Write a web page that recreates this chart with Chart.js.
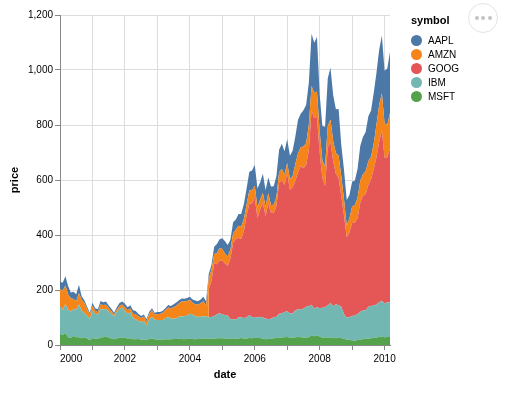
<!DOCTYPE html>
<html>
<head>
<meta charset="utf-8">
<script src="https://cdn.jsdelivr.net/npm/chart.js@4.4.1/dist/chart.umd.min.js"></script>
<style>
  body { margin: 0; background: #fff; font-family: "Liberation Sans", Arial, sans-serif; }
  #wrap { position: relative; width: 510px; height: 394px; }
  #legend { position: absolute; left: 411px; top: 14px; color: #000; }
  #legend .title { font-size: 11px; font-weight: bold; height: 19px; }
  #legend .item { display: flex; align-items: center; height: 14.2px; font-size: 10px; }
  #legend .dot { width: 11px; height: 11px; border-radius: 50%; margin-right: 6px; }
  #more { position: absolute; left: 468px; top: 3px; width: 30px; height: 30px; box-sizing: border-box;
          border: 1px solid #e3e3e3; border-radius: 50%; background: #fff; display: flex;
          align-items: center; justify-content: center; gap: 2.5px; }
  #more span { width: 4px; height: 4px; border-radius: 50%; background: #c4c4c4; }
</style>
</head>
<body>
<div id="wrap">
  <canvas id="chart" width="510" height="394"></canvas>
  <div id="legend"></div>
  <div id="more"><span></span><span></span><span></span></div>
</div>
<script>
// monthly closing prices, Jan 2000 .. Mar 2010
const firstYear = 2000;
const googFirstMonth = 55; // Aug 2004

const msft = [39.81,36.35,43.22,28.37,25.45,32.54,28.4,28.4,24.53,28.02,23.34,17.65,
  24.84,24,22.25,27.56,28.14,29.7,26.93,23.21,20.82,23.65,26.12,26.95,
  25.92,23.73,24.53,21.26,20.71,22.25,19.52,19.97,17.79,21.75,23.46,21.03,
  19.31,19.34,19.76,20.87,20.09,20.93,21.56,21.65,22.69,21.45,21.1,22.46,
  22.69,21.77,20.46,21.45,21.53,23.44,23.38,22.47,22.76,23.02,24.6,24.52,
  24.11,23.15,22.24,23.28,23.82,22.93,23.64,25.35,23.83,23.8,25.71,24.29,
  26.14,25.04,25.36,22.5,21.19,21.8,22.51,24.13,25.68,26.96,27.66,28.13,
  29.07,26.63,26.35,28.3,29.11,27.95,27.5,27.34,28.04,35.03,32.09,34,
  31.13,26.07,27.21,27.34,27.25,26.47,24.75,26.36,25.78,21.57,19.66,18.91,
  16.63,15.81,17.99,19.84,20.59,23.42,23.18,24.43,25.49,27.48,29.27,30.34,
  28.05,28.67,28.8];

const amzn = [64.56,68.87,67,55.19,48.31,36.31,30.12,41.5,38.44,36.62,24.69,15.56,
  17.31,10.19,10.23,15.78,16.69,14.15,12.49,8.94,5.97,6.98,11.32,10.82,
  14.19,14.1,14.3,16.69,18.23,16.25,14.45,14.94,15.93,19.36,23.35,18.89,
  21.85,22.01,26.03,28.69,35.89,36.32,41.64,46.32,48.43,54.43,53.97,52.62,
  50.4,43.01,43.28,43.6,48.5,54.4,38.92,38.14,40.86,34.13,39.68,44.29,
  43.22,35.18,34.27,32.36,35.51,33.09,45.15,42.7,45.3,39.86,48.46,47.15,
  44.82,37.44,36.53,35.21,34.61,38.68,26.89,30.83,32.12,38.09,40.34,39.46,
  37.67,39.14,39.79,61.33,69.14,68.41,78.54,79.91,93.15,89.15,90.56,92.64,
  77.7,64.47,71.3,78.63,81.62,73.33,76.34,80.81,72.76,57.24,42.7,51.28,
  58.82,64.79,73.44,80.52,77.99,83.66,85.76,81.19,93.36,118.81,135.91,134.52,
  125.41,118.4,128.82];

const ibm = [100.52,92.11,106.11,99.95,96.31,98.33,100.74,118.62,101.19,88.5,84.12,76.47,
  100.76,89.98,86.63,103.7,100.82,102.35,94.87,90.25,82.82,97.58,104.5,109.36,
  97.54,88.82,94.15,75.82,72.97,65.31,63.86,68.52,53.01,71.76,79.16,70.58,
  71.22,71.13,71.57,77.47,80.48,75.42,74.28,75.12,80.91,81.96,83.08,85.05,
  91.06,88.7,84.41,81.04,81.59,81.19,80.19,78.17,79.13,82.84,87.15,91.16,
  86.39,85.78,84.66,70.77,70.18,68.93,77.53,75.07,74.7,76.25,82.98,76.73,
  75.89,75.09,77.17,77.05,75.04,72.15,72.7,76.35,77.26,87.06,86.95,91.9,
  93.79,88.18,89.44,96.98,101.54,100.25,105.4,111.54,112.6,111,100.9,103.7,
  102.75,109.64,110.87,116.23,125.14,114.6,123.74,118.16,113.53,90.24,79.65,82.15,
  89.46,90.32,95.09,101.29,104.85,103.01,116.34,117,118.55,119.54,125.79,130.32,
  121.85,127.16,125.55];

// Aug 2004 .. Mar 2010
const goog = [102.37,129.6,190.64,181.98,192.79,
  195.62,187.99,180.51,220,277.27,294.15,287.76,286,316.46,372.14,404.91,414.86,
  432.66,362.62,390,417.94,371.82,419.33,386.6,378.53,401.9,476.39,484.81,460.48,
  501.5,449.45,458.16,471.38,497.91,522.7,510,515.25,567.27,707,693,691.48,
  564.3,471.18,440.47,574.29,585.8,526.42,473.75,463.29,400.52,359.36,292.96,307.65,
  338.53,337.99,348.06,395.97,417.23,421.59,443.05,461.67,495.85,536.12,583,619.98,
  529.94,526.8,560.19];

const aapl = [25.94,28.66,33.95,31.01,21,26.19,25.41,30.47,12.88,9.78,8.25,7.44,
  10.81,9.12,11.03,12.74,9.98,11.62,9.4,9.27,7.76,8.78,10.65,10.95,
  12.36,10.85,11.84,12.14,11.65,8.86,7.63,7.38,7.25,8.03,7.75,7.16,
  7.18,7.51,7.07,7.11,8.98,9.53,10.54,11.31,10.36,11.44,10.45,10.69,
  11.28,11.96,13.52,12.89,14.03,16.27,16.17,17.25,19.38,26.2,33.53,32.2,
  38.45,44.86,41.67,36.06,39.76,36.81,42.65,46.89,53.61,57.59,67.82,71.89,
  75.51,68.49,62.72,70.39,59.77,57.27,67.96,67.85,76.98,81.08,91.66,84.84,
  85.73,84.61,92.91,99.8,121.19,122.04,131.76,138.48,153.47,189.95,182.22,198.08,
  135.36,125.02,143.5,173.95,188.75,167.44,158.95,169.53,113.66,107.59,92.67,85.35,
  90.13,89.31,105.12,125.83,135.81,142.43,163.39,168.21,185.35,188.5,199.91,210.73,
  192.06,204.62,223.02];

const symbols = ['AAPL', 'AMZN', 'GOOG', 'IBM', 'MSFT'];
const colors = ['#4c78a8', '#f58518', '#e45756', '#72b7b2', '#54a24b'];
const stackOrder = ['MSFT', 'IBM', 'GOOG', 'AMZN', 'AAPL']; // bottom to top
const yTicks = [0, 200, 400, 600, 800, 1000, 1200];

const prices = { AAPL: aapl, AMZN: amzn, GOOG: goog, IBM: ibm, MSFT: msft };
const offsets = { AAPL: 0, AMZN: 0, GOOG: googFirstMonth, IBM: 0, MSFT: 0 };

const monthX = i => firstYear + i / 12;
const lastX = monthX(msft.length - 1);
const FONT = '"Liberation Sans", Arial, sans-serif';

// 'stack' fill follows whatever series lies below, so GOOG's late start is handled
const datasets = stackOrder.map(sym => ({
  label: sym,
  data: prices[sym].map((v, i) => ({ x: monthX(i + offsets[sym]), y: v })),
  backgroundColor: colors[symbols.indexOf(sym)],
  borderWidth: 0,
  pointRadius: 0,
  fill: 'stack'
}));

// legend
const legend = document.getElementById('legend');
let html = '<div class="title">symbol</div>';
symbols.forEach((s, i) => {
  html += `<div class="item"><div class="dot" style="background:${colors[i]}"></div>${s}</div>`;
});
legend.innerHTML = html;

// first x label sits flush with the left edge of the axis
const flushFirstLabel = {
  id: 'flushFirstLabel',
  beforeDraw(chart) {
    const items = chart.scales.x.getLabelItems();
    if (items.length) items[0].options.textAlign = 'left';
  }
};

new Chart(document.getElementById('chart'), {
  type: 'line',
  data: { datasets },
  plugins: [flushFirstLabel],
  options: {
    responsive: false,
    animation: false,
    layout: { padding: { left: 0, right: 120, top: 15, bottom: 0 } },
    plugins: { legend: { display: false }, tooltip: { enabled: false } },
    elements: { line: { tension: 0 } },
    scales: {
      x: {
        type: 'linear',
        min: firstYear,
        max: lastX,
        afterFit: s => { s.height = 49; },
        ticks: {
          stepSize: 1, includeBounds: false, autoSkip: false, maxRotation: 0, padding: 3,
          color: '#000', font: { family: FONT, size: 10 },
          callback: v => (v % 2 === 0 ? String(v) : '')
        },
        grid: { color: '#ddd', tickColor: '#888', tickLength: 5 },
        border: { color: '#888' },
        title: {
          display: true, text: 'date', color: '#000',
          font: { family: FONT, size: 11, weight: 'bold' },
          padding: { top: 0, bottom: 12 }
        }
      },
      y: {
        stacked: true,
        min: 0,
        max: 1200,
        afterFit: s => { s.width = 60; },
        afterBuildTicks: s => { s.ticks = yTicks.map(v => ({ value: v })); },
        ticks: {
          padding: 2, color: '#000', font: { family: FONT, size: 10 },
          callback: v => v.toLocaleString('en-US')
        },
        grid: { color: '#ddd', tickColor: '#888', tickLength: 5 },
        border: { color: '#888' },
        title: {
          display: true, text: 'price', color: '#000',
          font: { family: FONT, size: 11, weight: 'bold' },
          padding: { top: 8, bottom: 0 }
        }
      }
    }
  }
});
</script>
</body>
</html>
